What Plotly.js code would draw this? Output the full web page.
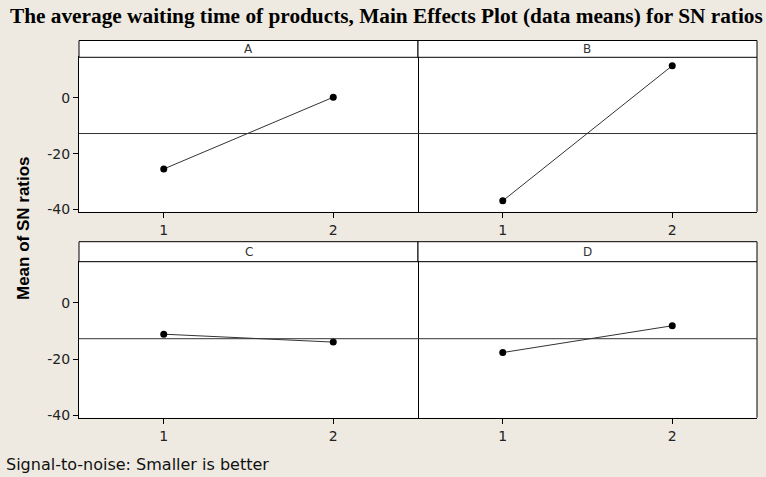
<!DOCTYPE html>
<html><head><meta charset="utf-8">
<script src="https://cdn.plot.ly/plotly-3.0.1.min.js"></script>
<style>html,body{margin:0;padding:0;background:#EEEAE1;}</style>
</head><body><div id="chart" style="width:766px;height:477px;"></div>
<script>
const factors = ["A", "B", "C", "D"];
const levels = [1, 2];
const meanA = [-25.5, 0.2];
const meanB = [-36.9, 11.5];
const meanC = [-11.2, -14.0];
const meanD = [-17.7, -8.2];
const grandMean = -12.8;
const yTicks = [-40, -20, 0];
const xTicks = [1, 2];
const titleText = "The average waiting time of products, Main Effects Plot (data means) for SN ratios";
const yTitle = "Mean of SN ratios";
const footer = "Signal-to-noise: Smaller is better";

const series = [meanA, meanB, meanC, meanD];
const W = 766, H = 477;
const colX = [[79/W, 418/W], [418/W, 757/W]];
const rowY = [[1-211.7/H, 1-57.3/H], [1-417.7/H, 1-261.7/H]];
const stripY = [[1-57.3/H, 1-40.5/H], [1-261.7/H, 1-241.7/H]];
const yRange = [-40.8, 14.5];
const tickFont = {family: "DejaVu Sans, Verdana, sans-serif", size: 14, color: "#222"};

const traces = [];
const layout = {
  width: W, height: H,
  margin: {l:0, r:0, t:0, b:0},
  paper_bgcolor: "#EEEAE1",
  plot_bgcolor: "#FFFFFF",
  showlegend: false,
  shapes: [], annotations: []
};
factors.forEach((f, i) => {
  const r = Math.floor(i/2), c = i % 2;
  const sfx = i === 0 ? "" : String(i+1);
  traces.push({
    x: levels, y: series[i], xaxis: "x"+sfx, yaxis: "y"+sfx,
    type: "scatter", mode: "lines+markers",
    line: {color: "#333333", width: 1},
    marker: {color: "#000000", size: 7},
    hoverinfo: "skip"
  });
  layout["xaxis"+sfx] = {
    domain: colX[c], anchor: "y"+sfx, range: [0.5, 2.5],
    tickvals: xTicks, ticktext: xTicks.map(String),
    ticks: "outside", ticklen: 5, tickcolor: "#000",
    showline: true, linecolor: "#000", linewidth: 1, mirror: true,
    showgrid: false, zeroline: false, fixedrange: true,
    tickfont: tickFont
  };
  layout["yaxis"+sfx] = {
    domain: rowY[r], anchor: "x"+sfx, range: yRange,
    tickvals: c === 0 ? yTicks : [], ticktext: yTicks.map(String),
    showticklabels: c === 0,
    ticks: c === 0 ? "outside" : "", ticklen: 5, tickcolor: "#000",
    showline: c === 0, linecolor: "#000", linewidth: 1, mirror: c === 0,
    showgrid: false, zeroline: false, fixedrange: true,
    tickfont: tickFont
  };
  if (c === 1) {
    layout.shapes.push({
      type: "line", xref: "x"+sfx+" domain", yref: "y"+sfx+" domain",
      x0: 1, x1: 1, y0: 0, y1: 1, line: {color: "#000", width: 1}
    });
  }
  layout.shapes.push({
    type: "line", xref: "x"+sfx+" domain", yref: "y"+sfx,
    x0: 0, x1: 1, y0: grandMean, y1: grandMean,
    line: {color: "#333333", width: 1}
  });
  layout.shapes.push({
    type: "rect", xref: "paper", yref: "paper",
    x0: colX[c][0], x1: colX[c][1], y0: stripY[r][0], y1: stripY[r][1],
    fillcolor: "#FFFFFF", line: {color: "#000", width: 1}, layer: "above"
  });
  layout.annotations.push({
    xref: "paper", yref: "paper", x: (colX[c][0]+colX[c][1])/2,
    y: (stripY[r][0]+stripY[r][1])/2, text: f, showarrow: false,
    xanchor: "center", yanchor: "middle",
    font: {family: "DejaVu Sans, Verdana, sans-serif", size: 12, color: "#333"}
  });
});
layout.annotations.push({
  xref: "paper", yref: "paper", x: 8/W, y: 1-16/H, xanchor: "left", yanchor: "middle",
  text: "<b>"+titleText+"</b>", showarrow: false,
  font: {family: "Liberation Serif, Times New Roman, serif", size: 21.3, color: "#000"}
});
layout.annotations.push({
  xref: "paper", yref: "paper", x: 23/W, y: 1-228/H, xanchor: "center", yanchor: "middle",
  text: "<b>"+yTitle+"</b>", textangle: -90, showarrow: false,
  font: {family: "Liberation Sans, Arial, sans-serif", size: 17, color: "#000"}
});
layout.annotations.push({
  xref: "paper", yref: "paper", x: 4/W, y: 1-464/H, xanchor: "left", yanchor: "middle",
  text: footer, showarrow: false,
  font: {family: "DejaVu Sans, Verdana, sans-serif", size: 16, color: "#111"}
});
Plotly.newPlot("chart", traces, layout, {displayModeBar: false, staticPlot: true});
</script></body></html>
